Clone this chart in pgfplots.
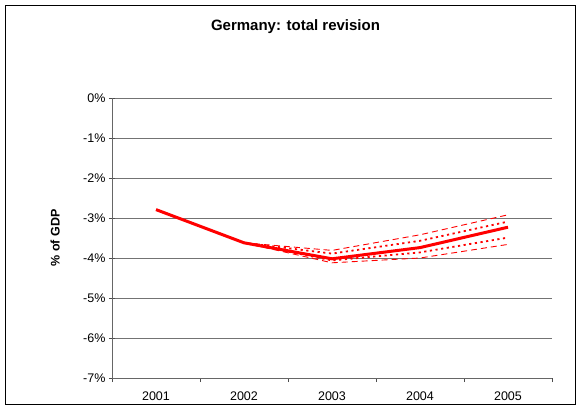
\documentclass[border=0pt]{standalone}
\usepackage{pgfplots}
\pgfplotsset{compat=1.18}
\usepackage{fontspec}
\setmainfont{Liberation Sans}
\definecolor{xlred}{RGB}{255,0,0}
\begin{document}
\begin{tikzpicture}[x=1pt,y=1pt]
\path[use as bounding box] (0,0) rectangle (579,410);
\draw[black,line width=1pt] (5.5,5.5) rectangle (575,404.5);
\node[font=\fontsize{15}{17}\selectfont\bfseries] at (295.5,383) {Germany: total revision};
\begin{axis}[
  at={(112pt,32pt)}, anchor=south west,
  scale only axis, width=440pt, height=280pt,
  xmin=0.5, xmax=5.5, ymin=-7, ymax=0,
  axis x line=bottom, axis y line=left,
  axis line style={-, black!60, line width=0.8pt},
  xtick={1,2,3,4,5},
  xticklabels={2001,2002,2003,2004,2005},
  major x tick style={draw=none},
  minor xtick={0.5,1.5,2.5,3.5,4.5,5.5},
  minor x tick style={black!70, line width=0.6pt},
  minor tick length=4pt,
  xtick align=outside,
  xticklabel style={yshift=-4pt},
  ytick={-7,-6,...,0},
  yticklabel={\pgfmathprintnumber{\tick}\%},
  /pgf/number format/assume math mode=true,
  ytick align=center,
  major tick length=6pt,
  y tick style={black!70, line width=0.6pt},
  ymajorgrids, grid style={black!55, line width=0.7pt},
  ticklabel style={font=\fontsize{12.5}{14}\selectfont},
  ylabel={\bfseries \% of GDP},
  ylabel style={font=\fontsize{12.5}{14}\selectfont, at={(-0.111,0.5)}},
  clip=false,
]
\addplot[xlred, line width=0.9pt, dash pattern=on 6pt off 4pt] coordinates {(2,-3.62) (3,-3.81) (4,-3.42) (5,-2.92)};
\addplot[xlred, line width=0.9pt, dash pattern=on 6pt off 4pt] coordinates {(2,-3.62) (3,-4.12) (4,-4.00) (5,-3.66)};
\addplot[xlred, line width=1.8pt, dash pattern=on 2.2pt off 3.5pt] coordinates {(2,-3.62) (3,-3.89) (4,-3.57) (5,-3.09)};
\addplot[xlred, line width=1.8pt, dash pattern=on 2.2pt off 3.5pt] coordinates {(2,-3.62) (3,-4.06) (4,-3.86) (5,-3.49)};
\addplot[xlred, line width=3pt] coordinates {(1,-2.79) (2,-3.62) (3,-4.02) (4,-3.74) (5,-3.23)};
\end{axis}
\end{tikzpicture}
\end{document}
